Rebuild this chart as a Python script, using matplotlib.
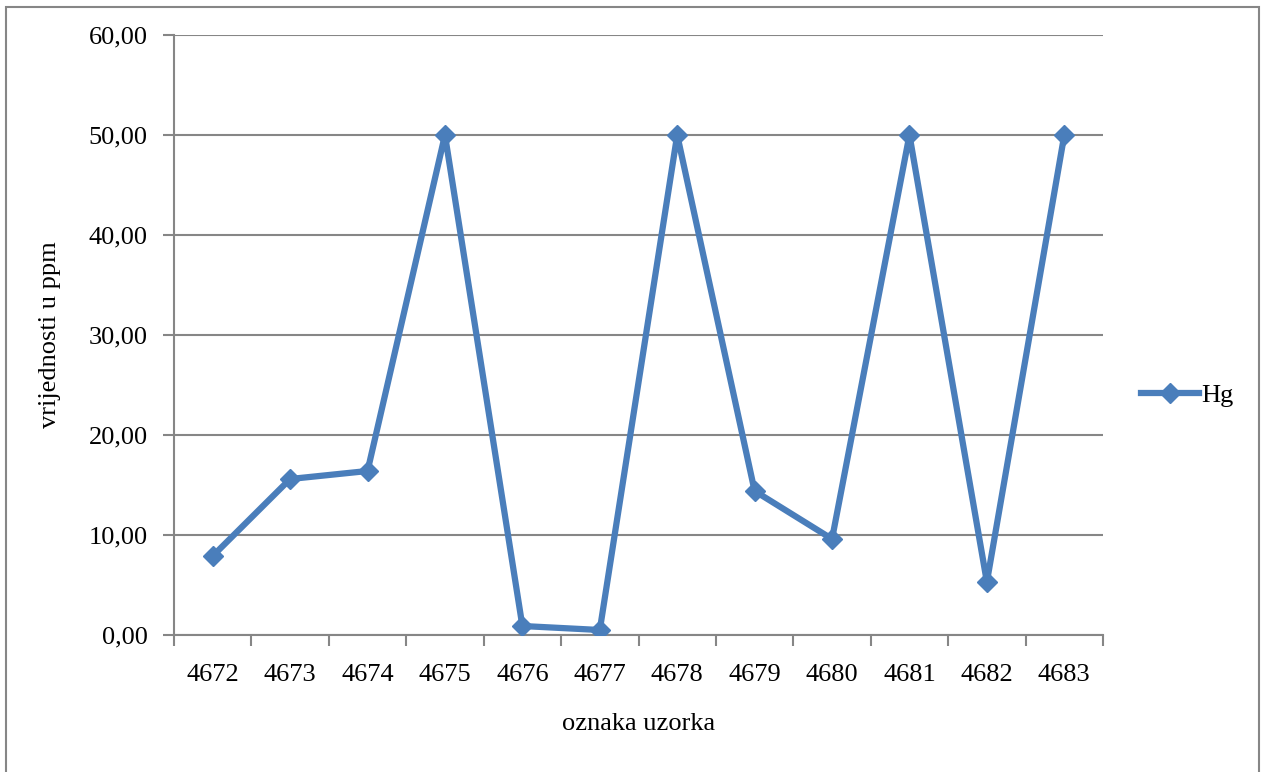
import matplotlib
matplotlib.use("Agg")
import matplotlib.pyplot as plt
from matplotlib.patches import Rectangle

categories = ["4672", "4673", "4674", "4675", "4676", "4677", "4678", "4679", "4680", "4681", "4682", "4683"]
hg = [7.9, 15.6, 16.4, 50.0, 0.9, 0.5, 50.0, 14.4, 9.6, 50.0, 5.3, 50.0]
yticks = [0, 10, 20, 30, 40, 50, 60]

W, H = 1263, 772
fig = plt.figure(figsize=(W / 100, H / 100), dpi=100)
plt.rcParams['font.family'] = ['Liberation Serif', 'DejaVu Serif']
FS = 19

# outer frame
fig.patches.append(Rectangle((5.5 / W, -0.01), (1259 - 5.5) / W, 1 - 6.5 / H + 0.01,
                             transform=fig.transFigure, fill=False,
                             edgecolor='#868686', linewidth=1.5))

ax = fig.add_axes([174 / W, 1 - 635 / H, (1103 - 174) / W, (635 - 35) / H])
color = '#4a7ebb'
x = list(range(len(categories)))
ax.plot(x, hg, color=color, linewidth=4.5, marker='D', markersize=10,
        markeredgecolor=color, label='Hg', solid_joinstyle='round', zorder=3)

ax.set_xlim(-0.5, len(categories) - 0.5)
ax.set_ylim(0, 60)
ax.set_yticks(yticks)
ax.set_yticklabels([f"{v:.2f}".replace('.', ',') for v in yticks], fontsize=FS)
ax.set_xticks(x)
ax.set_xticklabels(categories, fontsize=FS)
ax.set_xticks([i - 0.5 for i in range(len(categories) + 1)], minor=True)
ax.tick_params(axis='x', which='major', length=0, pad=21)
ax.tick_params(axis='x', which='minor', length=8, color='#868686', width=1.5)
ax.tick_params(axis='y', length=8, color='#868686', width=1.5, pad=11)

ax.grid(axis='y', color='#868686', linewidth=1.5)
ax.set_axisbelow(True)
for s in ['top', 'right']:
    ax.spines[s].set_visible(False)
for s in ['left', 'bottom']:
    ax.spines[s].set_color('#868686')
    ax.spines[s].set_linewidth(1.5)

ax.set_xlabel('oznaka uzorka', fontsize=FS, labelpad=19)
ax.set_ylabel('vrijednosti u ppm', fontsize=FS, labelpad=20)

leg = ax.legend(loc='center left', bbox_to_anchor=(1.015, 0.4), frameon=False,
                fontsize=FS, handlelength=2.2, handletextpad=0.1)

fig.savefig('out.png', dpi=100)
